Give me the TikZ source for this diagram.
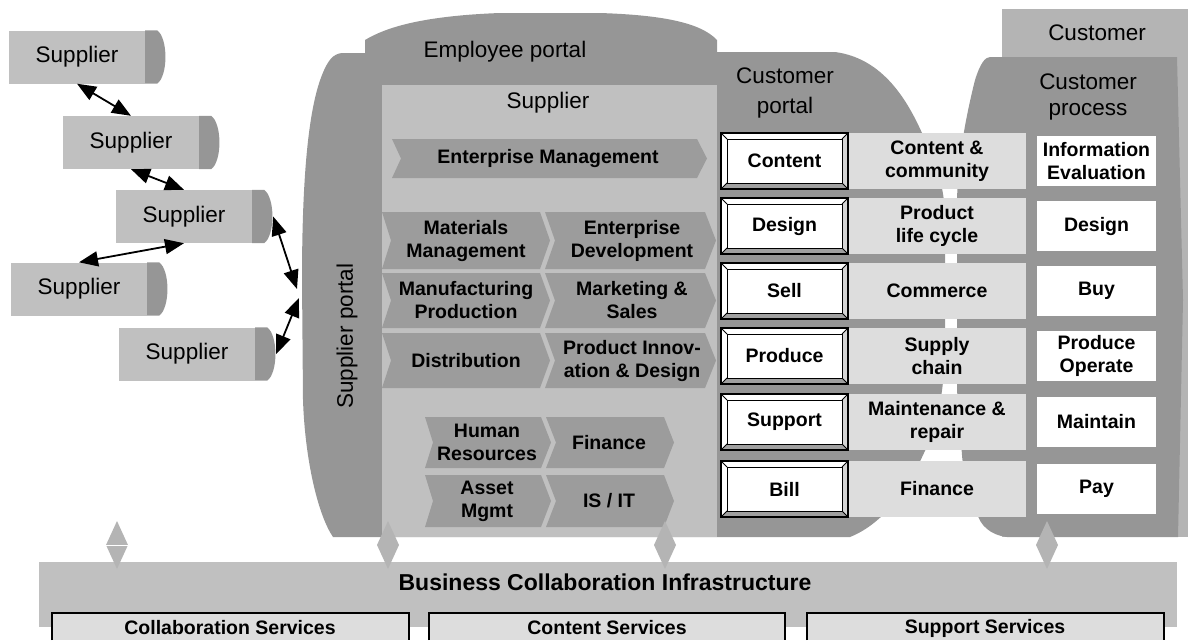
\documentclass[tikz,border=0pt]{standalone}
\usepackage{fontspec}
\setmainfont{Liberation Sans}
\usetikzlibrary{arrows.meta}
\definecolor{darkfill}{HTML}{969696}
\definecolor{midfill}{HTML}{B4B4B4}
\definecolor{lightfill}{HTML}{C0C0C0}
\definecolor{rowfill}{HTML}{DDDDDD}
\definecolor{chevfill}{HTML}{9C9C9C}
\definecolor{bevelfill}{HTML}{A0A0A0}
\definecolor{sidefill}{HTML}{D4D4D4}
\tikzset{linktip/.tip={Triangle[length=19pt,width=15pt]}}

\begin{document}
\begin{tikzpicture}[x=1pt,y=-1pt,
    big/.style={font=\fontsize{22.5}{27}\selectfont, align=center, inner sep=0pt},
    lbl/.style={font=\fontsize{19.5}{23}\selectfont\bfseries, align=center, inner sep=0pt},
    title/.style={font=\fontsize{23}{27}\selectfont\bfseries, inner sep=0pt},
    supbox/.style={big, fill=lightfill, minimum width=136pt, minimum height=53pt},
    btn/.style={lbl, draw, line width=1pt, fill=white, minimum width=115pt, minimum height=44pt},
    fnrow/.style={lbl, fill=rowfill, minimum width=178pt, minimum height=56pt},
    procbox/.style={lbl, fill=white, minimum width=119pt, minimum height=50pt},
    chev/.style={fill=chevfill},
    blob/.style={fill=darkfill},
    diam/.style={fill=midfill},
    link/.style={linktip-linktip, line width=1.8pt}]
\useasboundingbox (0,0) rectangle (1188,640);

% customer side
\fill[midfill] (1002,9) rectangle (1188,537);
\node (cust) at (1097,33) [big] {Customer};
\fill[blob] (990,57) -- (1177,57) -- (1183,300) -- (1178,537) -- (1007,537)
    .. controls (990,535) and (980,525) .. (977,513)
    .. controls (968,490) and (963,470) .. (962,455)
    -- (957,390) -- (957,200)
    .. controls (958,160) and (965,120) .. (975,80)
    .. controls (980,64) and (985,57) .. (990,57) -- cycle;
\node (cproc) at (1088,97) [big, font=\fontsize{22.5}{26}\selectfont] {Customer\\process};

% employee and customer portal
\fill[blob] (382,537) -- (333,537)
    .. controls (318,515) and (305,460) .. (303,400)
    -- (302,280)
    .. controls (302,180) and (308,110) .. (322,75)
    .. controls (328,60) and (333,54) .. (342,53)
    -- (365,53) -- (365,40)
    .. controls (385,28) and (420,16) .. (500,13)
    -- (600,13)
    .. controls (660,15) and (700,22) .. (717,40)
    -- (717,52) -- (835,52)
    .. controls (880,58) and (905,95) .. (922,133)
    .. controls (935,160) and (945,185) .. (945,220)
    -- (945,340)
    .. controls (945,390) and (938,425) .. (923,455)
    .. controls (905,495) and (880,525) .. (850,537)
    -- cycle;
\node (empl) at (505,52) [big] {Employee portal};
\node (cport) at (785,93) [big, font=\fontsize{22.5}{30}\selectfont] {Customer\\portal};
\node (sport) at (347,336) [big, rotate=90] {Supplier portal};

% supplier area
\fill[lightfill] (382,85) rectangle (717,537);
\node (supl) at (548,103) [big] {Supplier};

\fill[chev] (392,139) -- (697,139) -- (707,158.5) -- (697,178) -- (392,178) -- (401,158.5) -- cycle;
\node (entm) at (548,158.5) [lbl] {Enterprise Management};

\fill[chev] (382,212) -- (540,212) -- (550,240.5) -- (540,269) -- (382,269) -- (391,240.5) -- cycle;
\fill[chev] (545,212) -- (705,212) -- (716,240.5) -- (705,269) -- (545,269) -- (555,240.5) -- cycle;
\node (matm) at (466,240.5) [lbl] {Materials\\Management};
\node (entd) at (632,240.5) [lbl] {Enterprise\\Development};

\fill[chev] (382,273) -- (540,273) -- (550,300.5) -- (540,328) -- (382,328) -- (391,300.5) -- cycle;
\fill[chev] (545,273) -- (705,273) -- (716,300.5) -- (705,328) -- (545,328) -- (555,300.5) -- cycle;
\node (manp) at (466,300.5) [lbl] {Manufacturing\\Production};
\node (mkts) at (632,300.5) [lbl] {Marketing \&\\Sales};

\fill[chev] (382,333) -- (540,333) -- (550,360.5) -- (540,388) -- (382,388) -- (391,360.5) -- cycle;
\fill[chev] (545,333) -- (705,333) -- (716,360.5) -- (705,388) -- (545,388) -- (555,360.5) -- cycle;
\node (dist) at (466,360.5) [lbl] {Distribution};
\node (pinn) at (632,360.5) [lbl] {Product Innov-\\ation \& Design};

\fill[chev] (425,417) -- (541,417) -- (551,442.5) -- (541,468) -- (425,468) -- (433,442.5) -- cycle;
\fill[chev] (546,417) -- (664,417) -- (674,442.5) -- (664,468) -- (546,468) -- (556,442.5) -- cycle;
\node (hres) at (487,442.5) [lbl] {Human\\Resources};
\node (fin) at (609,442.5) [lbl] {Finance};

\fill[chev] (425,475) -- (541,475) -- (551,501) -- (541,527) -- (425,527) -- (433,501) -- cycle;
\fill[chev] (546,475) -- (664,475) -- (674,501) -- (664,527) -- (546,527) -- (556,501) -- cycle;
\node (asst) at (487,501) [lbl] {Asset\\Mgmt};
\node (isit) at (609,501) [lbl] {IS / IT};

% customer portal rows
\foreach \y/\t/\f/\p/\n in {133/Content/{Content \&\\community}/{Information\\Evaluation}/1,
    198/Design/{Product\\life cycle}/Design/2,
    263/Sell/Commerce/Buy/3,
    328/Produce/{Supply\\chain}/{Produce\\Operate}/4,
    394/Support/{Maintenance \&\\repair}/Maintain/5,
    461/Bill/Finance/Pay/6} {
  \node (fn\n) at (937,\y+28) [fnrow] {\f};
  \node (proc\n) at (1096.5,\y+28) [procbox] {\p};
  \fill[white] (721,\y) rectangle (848,\y+56);
  \fill[bevelfill] (721,\y+56) -- (727,\y+50) -- (842,\y+50) -- (848,\y+56) -- cycle;
  \fill[sidefill] (848,\y) -- (842,\y+6) -- (842,\y+50) -- (848,\y+56) -- cycle;
  \node (btn\n) at (784.5,\y+28) [btn] {\t};
  \draw[line width=1pt] (721,\y) -- (727,\y+6) (848,\y) -- (842,\y+6)
      (721,\y+56) -- (727,\y+50) (848,\y+56) -- (842,\y+50);
  \draw[line width=1.6pt] (721,\y) rectangle (848,\y+56);
}

% suppliers
\node (sup1) at (77,57) [supbox] {Supplier};
\node (sup2) at (131,142.5) [supbox] {Supplier};
\node (sup3) at (184,216.5) [supbox] {Supplier};
\node (sup4) at (79,289) [supbox] {Supplier};
\node (sup5) at (187,354) [supbox] {Supplier};
\foreach \s in {sup1,sup2,sup3,sup4,sup5}
  \fill[darkfill] (\s.north east) -- ([xshift=12pt]\s.north east)
      .. controls ([xshift=23pt,yshift=-8pt]\s.north east) and ([xshift=23pt,yshift=8pt]\s.south east)
      .. ([xshift=12pt]\s.south east) -- (\s.south east) -- cycle;

\coordinate (cap3) at ([xshift=21pt]sup3.east);
\coordinate (cap5) at ([xshift=21pt]sup5.east);
\coordinate (sp1) at (297,289);
\coordinate (sp2) at (299,298);
\draw[link] (sup1.south) -- (sup2.north);
\draw[link] (sup2.south) -- (sup3.north);
\draw[link] (sup3.south) -- (sup4.north);
\draw[link] (cap3) -- (sp1);
\draw[link] (cap5) -- (sp2);

% infrastructure
\fill[lightfill] (39,562) rectangle (1177,627);
\node (bci) at (605,582) [title] {Business Collaboration Infrastructure};
\foreach \x in {117,388,665,1047}
  \fill[diam] (\x,521) -- (\x+11,545) -- (\x,569) -- (\x-11,545) -- cycle;
\draw[white, line width=0.6pt] (106,545) -- (128,545);

\fill[rowfill] (52,613) rectangle (409,640);
\draw[line width=1.2pt] (52,640) -- (52,613) -- (409,613) -- (409,640);
\node (colsv) at (230,628) [lbl] {Collaboration Services};
\fill[rowfill] (429,613) rectangle (785,640);
\draw[line width=1.2pt] (429,640) -- (429,613) -- (785,613) -- (785,640);
\node (consv) at (607,628) [lbl] {Content Services};
\fill[rowfill] (807,613) rectangle (1164,640);
\draw[line width=1.2pt] (807,640) -- (807,613) -- (1164,613) -- (1164,640);
\node (supsv) at (985,628) [lbl] {Support Services};
\end{tikzpicture}
\end{document}
